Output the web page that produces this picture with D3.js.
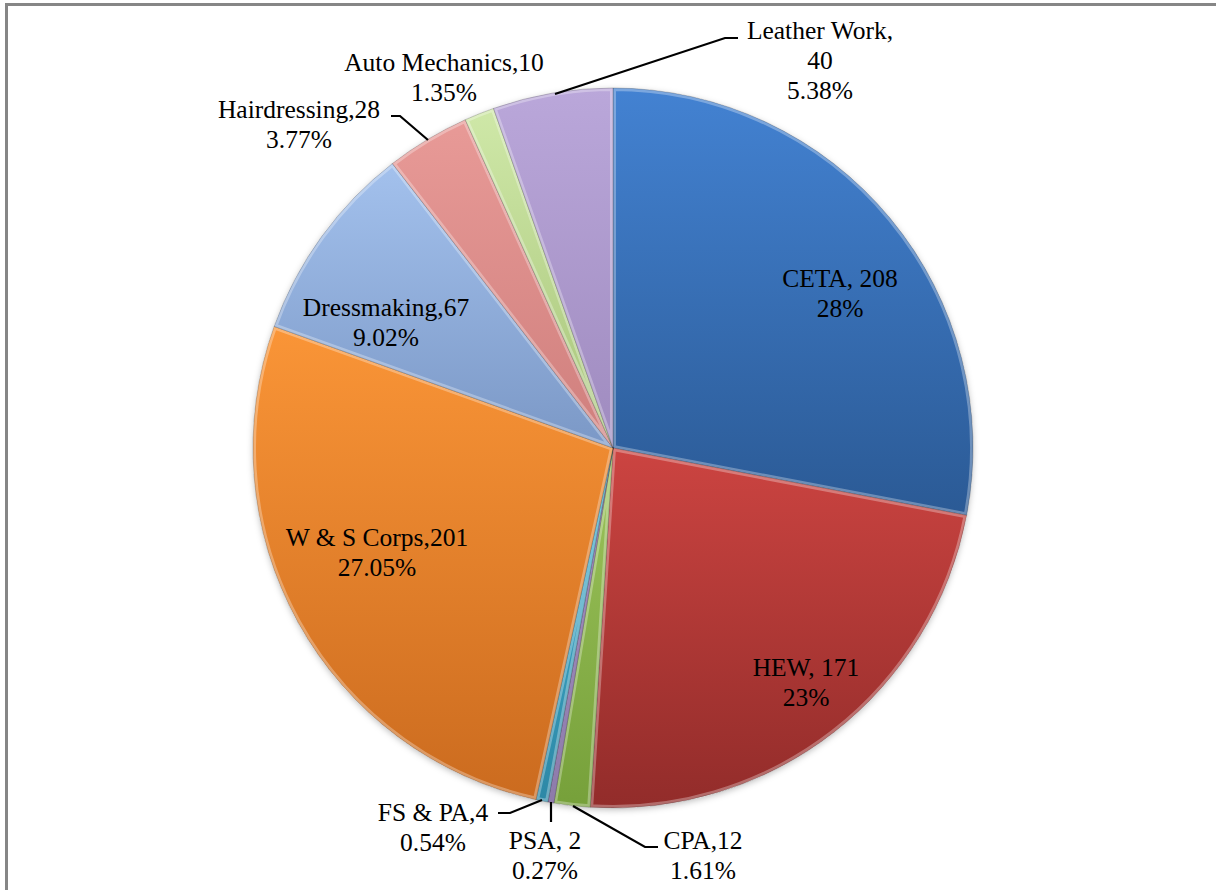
<!DOCTYPE html>
<html>
<head>
<meta charset="utf-8">
<script src="https://cdn.jsdelivr.net/npm/d3@7"></script>
<style>
  html, body { margin: 0; padding: 0; background: #fff; }
  svg { display: block; }
</style>
</head>
<body>
<svg id="chart" width="1216" height="890"></svg>
<script>
// ---- data ----
const categories = ["CETA", "HEW", "CPA", "PSA", "FS & PA", "W & S Corps", "Dressmaking", "Hairdressing", "Auto Mechanics", "Leather Work"];
const values = [208, 171, 12, 2, 4, 201, 67, 28, 10, 40];
const percentLabels = ["28%", "23%", "1.61%", "0.27%", "0.54%", "27.05%", "9.02%", "3.77%", "1.35%", "5.38%"];
const separators = [", ", ", ", ",", ", ", ",", ",", ",", ",", ",", ","];

// ---- style / layout ----
const lightColors = ["#4382d2", "#cc4441", "#9dc45c", "#7f62aa", "#40b1d1", "#fa9537", "#a3c1ed", "#e89a97", "#cfe8a8", "#baa7da"];
const darkColors  = ["#2b5a95", "#922c2a", "#76a03a", "#5d4386", "#2d88a6", "#cb6b1f", "#7b98c6", "#cf7f7d", "#a7c479", "#9f8bbf"];
const cx = 613, cy = 448, R = 360;
const FONT = "'Liberation Serif', 'Times New Roman', serif";
// label anchor (center of first line) and leader lines, by category
const labelLayout = {
  "CETA": { x: 840, y: 278 },
  "HEW": { x: 806, y: 667 },
  "CPA": { x: 703, y: 840, leader: [[573, 806], [645, 847], [658, 847]] },
  "PSA": { x: 545, y: 840, leader: [[551, 802], [551, 822]] },
  "FS & PA": { x: 433, y: 812, leader: [[542, 800], [510, 813], [498, 813]] },
  "W & S Corps": { x: 377, y: 537 },
  "Dressmaking": { x: 386, y: 307 },
  "Hairdressing": { x: 299, y: 109, leader: [[428, 140], [400, 116], [391, 116]] },
  "Auto Mechanics": { x: 444, y: 62 },
  "Leather Work": { x: 820, y: 30, leader: [[555, 94], [725, 38], [738, 38]] }
};
const lineH = 30;

const svg = d3.select("#chart");
const defs = svg.append("defs");

// frame
svg.append("rect")
  .attr("x", 6.5).attr("y", 4.5).attr("width", 1300).attr("height", 1000)
  .attr("fill", "none").attr("stroke", "#868686").attr("stroke-width", 3);

// shadow filter
const f = defs.append("filter").attr("id", "shadow").attr("x", "-10%").attr("y", "-10%").attr("width", "120%").attr("height", "120%");
f.append("feDropShadow").attr("dx", 0).attr("dy", 2).attr("stdDeviation", 3).attr("flood-color", "#000").attr("flood-opacity", 0.25);

const pie = d3.pie().sort(null).value(d => d).startAngle(0).endAngle(2 * Math.PI);
const arcs = pie(values);
const arc = d3.arc().innerRadius(0).outerRadius(R);

// gradients
categories.forEach((c, i) => {
  const g = defs.append("linearGradient").attr("id", "grad" + i)
    .attr("x1", 0).attr("y1", 0).attr("x2", 0).attr("y2", 1);
  g.append("stop").attr("offset", "0%").attr("stop-color", lightColors[i]);
  g.append("stop").attr("offset", "100%").attr("stop-color", darkColors[i]);
  defs.append("clipPath").attr("id", "clip" + i)
    .append("path").attr("d", arc(arcs[i]));
});

const pg = svg.append("g").attr("transform", `translate(${cx},${cy})`);

pg.append("circle").attr("r", R).attr("fill", "#fff").attr("filter", "url(#shadow)");

const slices = pg.selectAll("g.slice").data(arcs).enter().append("g").attr("class", "slice");
slices.append("path")
  .attr("d", arc)
  .attr("fill", (d, i) => `url(#grad${i})`);
// bevel highlight (inner)
slices.append("path")
  .attr("d", arc)
  .attr("fill", "none")
  .attr("stroke", "#fff")
  .attr("stroke-opacity", 0.3)
  .attr("stroke-width", 6)
  .attr("stroke-linejoin", "round")
  .attr("clip-path", (d, i) => `url(#clip${i})`);
slices.append("path")
  .attr("d", arc)
  .attr("fill", "none")
  .attr("stroke", "#000")
  .attr("stroke-opacity", 0.2)
  .attr("stroke-width", 1);

// leader lines
const line = d3.line();
categories.forEach((c, i) => {
  const L = labelLayout[c];
  if (L.leader) {
    svg.append("path").attr("d", line(L.leader))
      .attr("fill", "none").attr("stroke", "#000").attr("stroke-width", 2.2);
  }
});

// labels
const lg = svg.append("g");
categories.forEach((c, i) => {
  const L = labelLayout[c];
  let parts = [c + separators[i] + values[i]];
  if (c === "Leather Work") parts = [c + separators[i].trim(), String(values[i])];
  parts.push(percentLabels[i]);
  const t = lg.append("text")
    .attr("text-anchor", "middle")
    .style("font-family", FONT)
    .attr("font-size", 25.5)
    .attr("fill", "#000");
  parts.forEach((p, k) => {
    t.append("tspan").attr("x", L.x).attr("y", L.y + k * lineH).attr("dy", "0.35em").text(p);
  });
});
</script>
</body>
</html>
